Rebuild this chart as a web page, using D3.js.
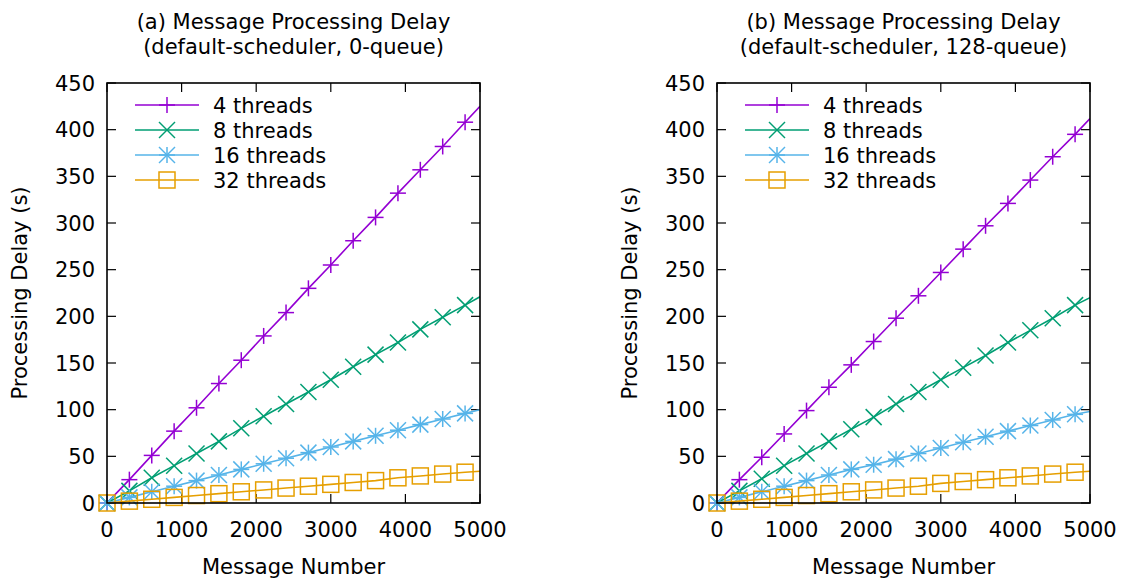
<!DOCTYPE html>
<html>
<head>
<meta charset="utf-8">
<script src="https://cdn.jsdelivr.net/npm/d3@7"></script>
<style>
  body { margin: 0; background: #fff; }
  svg { display: block; font-family: "DejaVu Sans", sans-serif; }
</style>
</head>
<body>
<svg id="chart" width="1125" height="578"></svg>
<script>
// message numbers where samples were taken (markers up to 4800, line runs on to 5000)
const msgNums = [0, 300, 600, 900, 1200, 1500, 1800, 2100, 2400, 2700, 3000, 3300, 3600, 3900, 4200, 4500, 4800, 5000];
const markerCount = 17;

const seriesNames = ["4 threads", "8 threads", "16 threads", "32 threads"];
const seriesColors = ["#9400d3", "#009e73", "#56b4e9", "#e69f00"];
const seriesShapes = ["plus", "cross", "star", "square"];

// (a) default-scheduler, 0-queue
const a4 = [0, 25, 51, 77, 102, 128, 153, 179, 204, 230, 255, 281, 306, 332, 357, 382, 408, 425];
const a8 = [0, 13, 27, 40, 53, 66, 80, 93, 106, 119, 132, 146, 159, 172, 186, 199, 212, 221];
const a16 = [0, 6, 12, 18, 24, 30, 36, 42, 48, 54, 60, 66, 72, 78, 84, 90, 96, 100];
const a32 = [0, 2, 4, 6, 8, 10, 12, 14, 16, 18, 20, 22, 24, 27, 29, 31, 33, 34];

// (b) default-scheduler, 128-queue
const b4 = [0, 25, 49, 74, 99, 124, 148, 173, 198, 222, 247, 272, 297, 321, 346, 371, 395, 412];
const b8 = [0, 13, 26, 40, 53, 66, 79, 92, 106, 119, 132, 145, 158, 172, 185, 198, 212, 220];
const b16 = [0, 6, 12, 18, 24, 30, 36, 41, 47, 53, 59, 65, 71, 77, 83, 89, 95, 98];
const b32 = [0, 2, 4, 6, 8, 10, 12, 14, 16, 18, 21, 23, 25, 27, 29, 31, 33, 34];

const xTicks = [0, 1000, 2000, 3000, 4000, 5000];
const yTicks = [0, 50, 100, 150, 200, 250, 300, 350, 400, 450];

const titlesA = ["(a) Message Processing Delay", "(default-scheduler, 0-queue)"];
const titlesB = ["(b) Message Processing Delay", "(default-scheduler, 128-queue)"];
const xLabel = "Message Number";
const yLabel = "Processing Delay (s)";

const svg = d3.select("#chart");
const fontSize = 21;
const tickLen = 9;
const markSize = 8;

function marker(g, shape, color, cx, cy) {
  const s = markSize;
  const p = g.append("g").attr("transform", `translate(${cx},${cy})`)
    .attr("fill", "none").attr("stroke", color).attr("stroke-width", 1.5);
  if (shape === "plus" || shape === "star") {
    p.append("line").attr("x1", -s).attr("x2", s).attr("y1", 0).attr("y2", 0);
    p.append("line").attr("x1", 0).attr("x2", 0).attr("y1", -s).attr("y2", s);
  }
  if (shape === "cross" || shape === "star") {
    p.append("line").attr("x1", -s).attr("x2", s).attr("y1", -s).attr("y2", s);
    p.append("line").attr("x1", -s).attr("x2", s).attr("y1", s).attr("y2", -s);
  }
  if (shape === "square") {
    p.append("rect").attr("x", -s).attr("y", -s).attr("width", 2 * s).attr("height", 2 * s);
  }
}

function drawPanel(left, titles, series, clipId) {
  const w = 373, h = 420, top = 83;
  const x = d3.scaleLinear().domain([0, 5000]).range([left, left + w]);
  const y = d3.scaleLinear().domain([0, 450]).range([top + h, top]);
  const g = svg.append("g");

  // title
  titles.forEach((t, i) => {
    g.append("text").attr("x", left + w / 2).attr("y", 29 + i * 25)
      .attr("text-anchor", "middle").attr("font-size", fontSize).text(t);
  });

  // ticks (gnuplot style: inward, mirrored)
  const ticks = g.append("g").attr("stroke", "#000").attr("stroke-width", 1.2);
  xTicks.forEach(v => {
    ticks.append("line").attr("x1", x(v)).attr("x2", x(v)).attr("y1", top + h).attr("y2", top + h - tickLen);
    ticks.append("line").attr("x1", x(v)).attr("x2", x(v)).attr("y1", top).attr("y2", top + tickLen);
    g.append("text").attr("x", x(v)).attr("y", top + h + 34)
      .attr("text-anchor", "middle").attr("font-size", fontSize).text(v);
  });
  yTicks.forEach(v => {
    ticks.append("line").attr("x1", left).attr("x2", left + tickLen).attr("y1", y(v)).attr("y2", y(v));
    ticks.append("line").attr("x1", left + w).attr("x2", left + w - tickLen).attr("y1", y(v)).attr("y2", y(v));
    g.append("text").attr("x", left - 12).attr("y", y(v)).attr("dy", "0.36em")
      .attr("text-anchor", "end").attr("font-size", fontSize).text(v);
  });

  // axis labels
  g.append("text").attr("x", left + w / 2).attr("y", top + h + 71)
    .attr("text-anchor", "middle").attr("font-size", fontSize).text(xLabel);
  g.append("text").attr("transform", `translate(${left - 80},${top + h / 2}) rotate(-90)`)
    .attr("text-anchor", "middle").attr("font-size", fontSize).text(yLabel);

  svg.append("clipPath").attr("id", clipId).append("rect")
    .attr("x", left).attr("y", top).attr("width", w).attr("height", h);

  const line = d3.line().x((d, i) => x(msgNums[i])).y(d => y(d));

  series.forEach((vals, k) => {
    const color = seriesColors[k];
    g.append("path").datum(vals).attr("clip-path", `url(#${clipId})`)
      .attr("fill", "none").attr("stroke", color).attr("stroke-width", 1.6)
      .attr("d", line);
    vals.slice(0, markerCount).forEach((v, i) => {
      marker(g, seriesShapes[k], color, x(msgNums[i]), y(v));
    });

    // legend entry
    const ly = 105 + k * 25;
    const lx = left + 28;
    g.append("line").attr("x1", lx).attr("x2", lx + 64).attr("y1", ly).attr("y2", ly)
      .attr("stroke", color).attr("stroke-width", 1.6);
    marker(g, seriesShapes[k], color, lx + 32, ly);
    g.append("text").attr("x", lx + 78).attr("y", ly).attr("dy", "0.36em")
      .attr("font-size", fontSize).text(seriesNames[k]);
  });

  // border
  g.append("rect").attr("x", left).attr("y", top).attr("width", w).attr("height", h)
    .attr("fill", "none").attr("stroke", "#000").attr("stroke-width", 1.6);
}

drawPanel(107, titlesA, [a4, a8, a16, a32], "clipA");
drawPanel(717, titlesB, [b4, b8, b16, b32], "clipB");
</script>
</body>
</html>
